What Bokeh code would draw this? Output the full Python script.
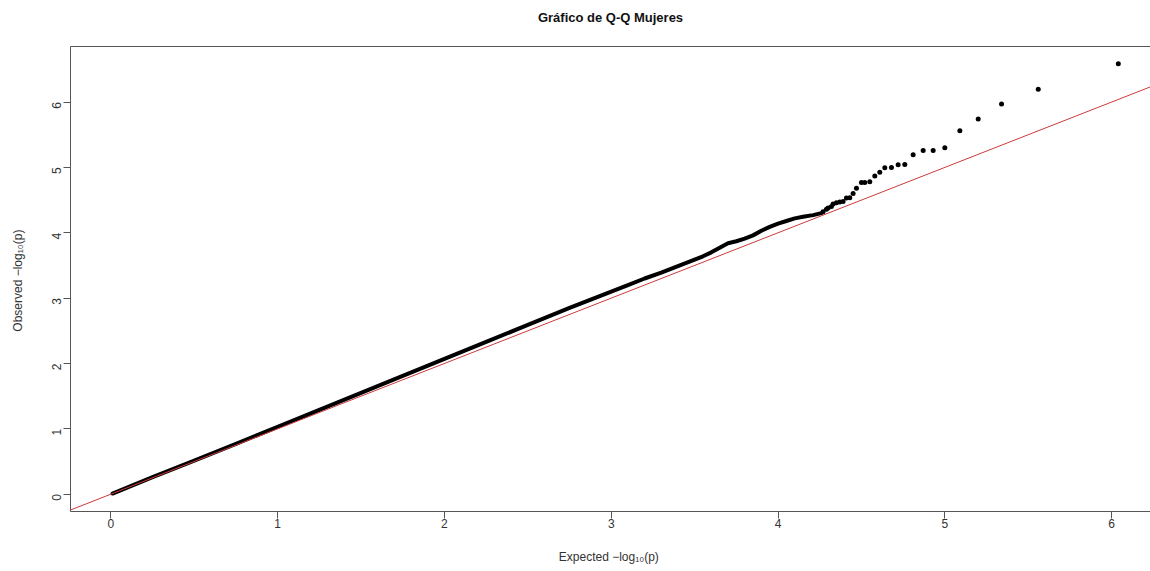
from bokeh.plotting import figure
from bokeh.models import Range1d, LinearAxis, Slope, FixedTicker
from bokeh.embed import file_html
from bokeh.resources import INLINE

# ---- data ----
# dense body of the Q-Q curve (expected, observed)
body_expected = [0.01, 0.25, 0.5, 0.75, 1.0, 1.25, 1.5, 1.75, 2.0, 2.25, 2.5, 2.75,
                 3.0, 3.1, 3.2, 3.3, 3.4, 3.5, 3.55, 3.6, 3.65, 3.7, 3.75, 3.8,
                 3.85, 3.9, 3.95, 4.0, 4.05, 4.1, 4.15, 4.21, 4.26]
body_observed = [0.01, 0.26, 0.515, 0.77, 1.03, 1.29, 1.55, 1.81, 2.07, 2.33, 2.59, 2.85,
                 3.10, 3.20, 3.30, 3.39, 3.49, 3.59, 3.64, 3.70, 3.77, 3.84, 3.87, 3.91,
                 3.96, 4.03, 4.09, 4.14, 4.18, 4.22, 4.245, 4.27, 4.30]
# isolated tail points
tail_expected = [6.04, 5.56, 5.34, 5.20, 5.09, 5.00, 4.93, 4.87, 4.81, 4.76,
                 4.72, 4.68, 4.64, 4.61, 4.58, 4.55, 4.52, 4.50, 4.47, 4.45,
                 4.43, 4.41, 4.39, 4.37, 4.35, 4.33, 4.32, 4.30, 4.29, 4.27]
tail_observed = [6.585, 6.195, 5.97, 5.74, 5.56, 5.30, 5.26, 5.26, 5.195, 5.045,
                 5.04, 5.00, 4.995, 4.925, 4.87, 4.78, 4.77, 4.77, 4.68, 4.60,
                 4.535, 4.53, 4.48, 4.47, 4.46, 4.44, 4.40, 4.38, 4.36, 4.32]
x_ticks = [0, 1, 2, 3, 4, 5, 6]
y_ticks = [0, 1, 2, 3, 4, 5, 6]
title_text = "Gráfico de Q-Q Mujeres"

FONT = "Liberation Sans"
AXIS_COL = "#555555"
TEXT_COL = "#333333"

p = figure(width=1150, height=571, output_backend="svg", toolbar_location=None,
           x_range=Range1d(-0.242, 6.233), y_range=Range1d(-0.265, 6.85),
           min_border_left=70, min_border_right=0, min_border_top=46,
           min_border_bottom=60, x_axis_type=None, y_axis_type=None,
           title=title_text)
p.outline_line_color = None
p.grid.visible = False
p.background_fill_color = "white"
p.border_fill_color = "white"

p.title.align = "center"
p.title.text_font = FONT
p.title.text_font_size = "13px"
p.title.text_font_style = "bold"
p.title.text_color = "#111111"
p.title.standoff = 0
p.title.padding = dict(left=0, right=0, top=0, bottom=22)

def style(ax):
    ax.axis_line_color = AXIS_COL
    ax.major_tick_line_color = AXIS_COL
    ax.minor_tick_line_color = None
    ax.major_tick_in = 0
    ax.major_tick_out = 7
    ax.major_label_text_font = FONT
    ax.major_label_text_font_size = "12px"
    ax.major_label_text_color = TEXT_COL
    ax.axis_label_text_font = FONT
    ax.axis_label_text_font_size = "12px"
    ax.axis_label_text_font_style = "normal"
    ax.axis_label_text_color = TEXT_COL

xa = LinearAxis(ticker=FixedTicker(ticks=x_ticks), axis_label="Expected  −log₁₀(p)")
style(xa)
xa.major_label_standoff = 0
xa.axis_label_standoff = 19
p.add_layout(xa, "below")

ya = LinearAxis(ticker=FixedTicker(ticks=y_ticks), axis_label="Observed  −log₁₀(p)")
style(ya)
ya.major_label_orientation = 3.14159265 / 2
ya.major_label_standoff = 7
ya.axis_label_standoff = 20
p.add_layout(ya, "left")

top = LinearAxis(ticker=FixedTicker(ticks=[]))
top.axis_line_color = AXIS_COL
top.major_tick_line_color = None
top.minor_tick_line_color = None
top.major_label_text_font_size = "0px"
top.major_tick_out = 0
top.major_label_standoff = 0
p.add_layout(top, "above")

p.line(body_expected, body_observed, line_color="black", line_width=4,
       line_cap="round", line_join="round")
p.scatter(tail_expected, tail_observed, size=5, fill_color="black", line_color=None)

p.add_layout(Slope(gradient=1, y_intercept=0, line_color="#cc3b3b", line_width=1))

open("out.html", "w").write(file_html(p, INLINE))
